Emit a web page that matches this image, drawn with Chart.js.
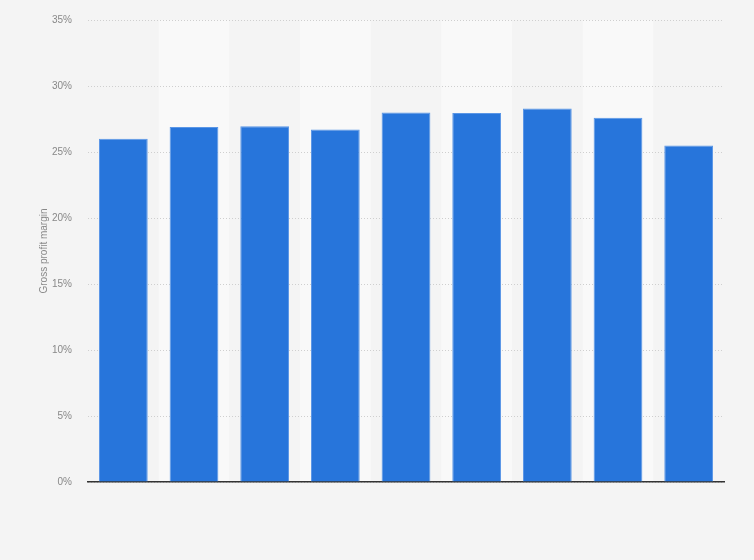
<!DOCTYPE html>
<html>
<head>
<meta charset="utf-8">
<script src="https://cdn.jsdelivr.net/npm/chart.js@4/dist/chart.umd.min.js"></script>
<style>
html,body{margin:0;padding:0;background:#f4f4f4;}
#wrap{width:754px;height:560px;position:relative;}
</style>
</head>
<body>
<div id="wrap"><canvas id="grafico"></canvas></div>
<script>
// no category labels are shown under the bars
let categorias = ["", "", "", "", "", "", "", "", ""]
let margem = [26.0, 26.9, 26.95, 26.7, 28.0, 27.95, 28.3, 27.6, 25.5]
let ticksY = [0, 5, 10, 15, 20, 25, 30, 35]

// light stripes behind every second column
let listras = {
id: "listras",
beforeDraw(chart){
let c = chart.ctx
let a = chart.chartArea
let x = chart.scales.x
c.save()
c.fillStyle = "#f4f4f4"
c.fillRect(0, 0, chart.width, chart.height)
c.fillStyle = "#f9f9f9"
let w = (a.right - a.left) / categorias.length
for(let i = 1; i < categorias.length; i += 2){
let cx = x.getPixelForValue(i)
c.fillRect(cx - w/2, a.top, w, a.bottom - a.top)
}
c.restore()
}
}

let ctx = document.getElementById("grafico").getContext("2d")

let grafico = new Chart(ctx, {
type: "bar",
data: {
labels: categorias,
datasets: [{
label: "Gross profit margin",
data: margem,
backgroundColor: "#2775db",
borderColor: "#5a96e6",
borderWidth: 1,
barPercentage: 0.69,
categoryPercentage: 1
}]
},
options: {
responsive: true,
maintainAspectRatio: false,
animation: false,
layout: {padding: {left: 34, right: 30, top: 20, bottom: 70}},
plugins: {legend: {display: false}, tooltip: {enabled: false}},
scales: {
x: {
grid: {display: false},
border: {display: true, color: "#333", width: 1.5},
ticks: {display: false}
},
y: {
min: 0,
max: 35,
afterBuildTicks(s){ s.ticks = ticksY.map(v => ({value: v})) },
afterFit(s){ s.width = 54; s.paddingTop = 0; s.paddingBottom = 0 },
grid: {color: "#cfcfcf", borderDash: [1, 2], drawTicks: false},
border: {display: false, dash: [1, 2]},
ticks: {
color: "#888",
font: {family: "Arial, Liberation Sans", size: 10},
padding: 16,
callback: v => v + "%"
},
title: {
display: true,
text: "Gross profit margin",
color: "#888",
font: {family: "Arial, Liberation Sans", size: 10},
padding: {bottom: 12}
}
}
}
},
plugins: [listras]
})
</script>
</body>
</html>
